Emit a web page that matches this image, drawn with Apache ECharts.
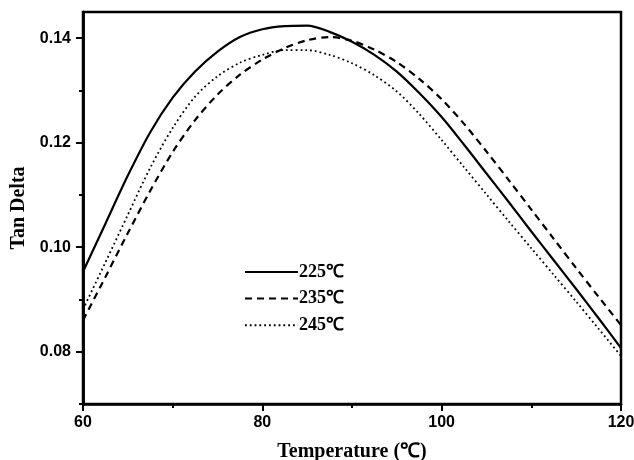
<!DOCTYPE html>
<html>
<head>
<meta charset="utf-8">
<script src="https://cdn.jsdelivr.net/npm/echarts@6/dist/echarts.min.js"></script>
<style>
html,body{margin:0;padding:0;background:#fff;}
#c{width:634px;height:460px;}
</style>
</head>
<body>
<div id="c"></div>
<script>
var temps = [60, 62.5, 65, 67.5, 70, 72.5, 75, 77.5, 80, 82.5, 85, 87.5, 90, 92.5, 95, 97.5, 100, 102.5, 105, 107.5, 110, 112.5, 115, 117.5, 120];
var s225 = [0.0953, 0.1045, 0.1137, 0.1220, 0.1286, 0.1336, 0.1374, 0.1402, 0.1417, 0.1423, 0.1424, 0.1412, 0.1393, 0.1368, 0.1336, 0.1295, 0.1249, 0.1196, 0.1141, 0.1086, 0.1030, 0.0975, 0.0920, 0.0864, 0.0807];
var s235 = [0.0860, 0.0943, 0.1027, 0.1108, 0.1182, 0.1243, 0.1292, 0.1330, 0.1359, 0.1381, 0.1396, 0.1402, 0.1395, 0.1378, 0.1354, 0.1322, 0.1283, 0.1236, 0.1183, 0.1128, 0.1072, 0.1016, 0.0960, 0.0905, 0.0851];
var s245 = [0.0881, 0.0971, 0.1062, 0.1152, 0.1228, 0.1288, 0.1327, 0.1353, 0.1368, 0.1377, 0.1377, 0.1368, 0.1352, 0.1329, 0.1298, 0.1255, 0.1205, 0.1153, 0.1101, 0.1049, 0.0998, 0.0947, 0.0896, 0.0844, 0.0792];
var seriesNames = ['225\u2103', '235\u2103', '245\u2103'];
var yMajor = [0.08, 0.10, 0.12, 0.14];
var yMinor = [0.07, 0.09, 0.11, 0.13];

function pairs(ys) { return temps.map(function (t, i) { return [t, ys[i]]; }); }

var chart = echarts.init(document.getElementById('c'), null, { renderer: 'canvas' });
var tickFont = { fontFamily: 'Liberation Sans, Arial, sans-serif', fontWeight: 'bold', fontSize: 16, color: '#000' };
var titleFont = { fontFamily: 'Liberation Serif, Times New Roman, serif', fontWeight: 'bold', fontSize: 20, color: '#000' };
var yBase = { type: 'value', min: 0.07, max: 0.145, position: 'left', splitLine: { show: false },
  axisLine: { show: true, onZero: false, lineStyle: { color: '#000', width: 2.5 } } };

chart.setOption({
  animation: false,
  backgroundColor: '#fff',
  grid: { left: 83, right: 13, top: 12, bottom: 56, outerBoundsMode: 'none', containLabel: false,
    show: true, borderColor: '#000', borderWidth: 2.5, backgroundColor: 'transparent' },
  legend: {
    orient: 'vertical', left: 244, top: 262, padding: 0, itemWidth: 53, itemHeight: 14, itemGap: 6.6,
    itemStyle: { opacity: 0 },
    textStyle: { fontFamily: 'Liberation Serif, Times New Roman, serif', fontWeight: 'bold', fontSize: 18, lineHeight: 20, color: '#000', padding: [0, 0, 0, -4] },
    data: seriesNames
  },
  xAxis: {
    type: 'value', min: 60, max: 120, interval: 20,
    name: 'Temperature (\u2103)', nameLocation: 'middle', nameGap: 38, nameTextStyle: titleFont,
    axisLine: { show: true, onZero: false, lineStyle: { color: '#000', width: 2.5 } },
    axisTick: { show: true, inside: false, length: 7, lineStyle: { color: '#000', width: 2 } },
    minorTick: { show: true, splitNumber: 2, length: 4, lineStyle: { color: '#000', width: 2 } },
    axisLabel: Object.assign({ margin: 11 }, tickFont),
    splitLine: { show: false }
  },
  yAxis: [
    Object.assign({}, yBase, {
      name: 'Tan Delta', nameLocation: 'middle', nameGap: 51, nameTextStyle: titleFont,
      axisTick: { show: true, length: 7, customValues: yMajor, lineStyle: { color: '#000', width: 2 } },
      axisLabel: Object.assign({ margin: 12, customValues: yMajor, formatter: function (v) { return v.toFixed(2); } }, tickFont)
    }),
    Object.assign({}, yBase, {
      axisTick: { show: true, length: 4, customValues: yMinor, lineStyle: { color: '#000', width: 2 } },
      axisLabel: { show: false }
    })
  ],
  series: [
    { name: seriesNames[0], type: 'line', data: pairs(s225), smooth: 0.3, symbol: 'none', showSymbol: false,
      lineStyle: { color: '#000', width: 2.2, type: 'solid' }, itemStyle: { color: '#000' } },
    { name: seriesNames[1], type: 'line', data: pairs(s235), smooth: 0.3, symbol: 'none', showSymbol: false,
      lineStyle: { color: '#000', width: 2.2, type: [7, 5] }, itemStyle: { color: '#000' } },
    { name: seriesNames[2], type: 'line', data: pairs(s245), smooth: 0.3, symbol: 'none', showSymbol: false,
      lineStyle: { color: '#000', width: 1.8, type: [1.8, 3] }, itemStyle: { color: '#000' } }
  ]
});
</script>
</body>
</html>
